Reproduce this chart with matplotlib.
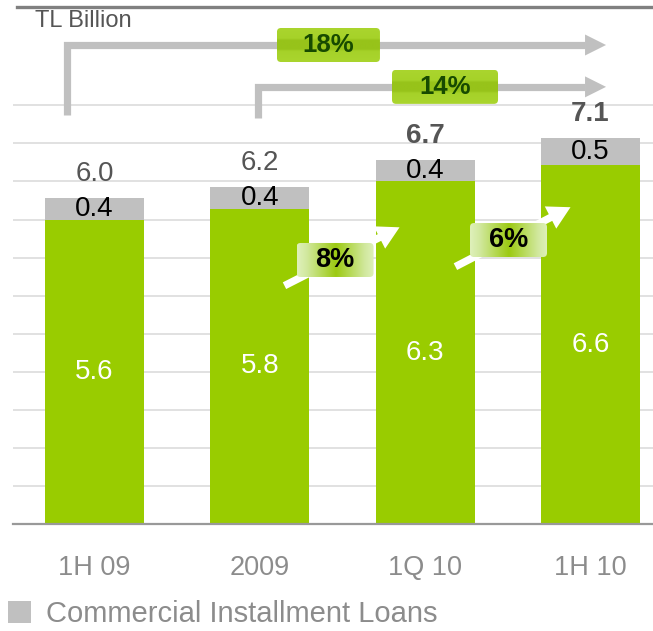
import numpy as np
import matplotlib
matplotlib.use("Agg")
import matplotlib.pyplot as plt
from matplotlib.patches import FancyBboxPatch, FancyArrowPatch
from matplotlib.colors import to_rgb

plt.rcParams['font.family'] = ['Liberation Sans', 'DejaVu Sans']

# Commercial installment loans, TL billion
periods = ["1H 09", "2009", "1Q 10", "1H 10"]
green_part = [5.6, 5.8, 6.3, 6.6]
gray_part = [0.4, 0.4, 0.4, 0.5]
totals = [6.0, 6.2, 6.7, 7.1]
total_bold = [False, False, True, True]

# cumulative growth brackets and quarter-on-quarter growth
bracket_labels = ["18%", "14%"]
step_labels = ["8%", "6%"]

GREEN = "#99cc00"
GRAY = "#c0c0c0"
TEXT_GRAY = "#8c8c8c"

fig = plt.figure(figsize=(6.53, 6.31), dpi=100)
ax = fig.add_axes([13 / 653, 107 / 631, 640 / 653, 524 / 631])

x = np.arange(len(periods))
ax.bar(x, green_part, width=0.6, color=GREEN, zorder=2)
gray_bars = ax.bar(x, gray_part, bottom=green_part, width=0.6, color=GRAY,
                   zorder=2, label="Commercial Installment Loans")

for i in range(len(periods)):
    ax.text(x[i], green_part[i] / 2, f"{green_part[i]:.1f}", ha="center",
            va="center", color="white", fontsize=20, zorder=3)
    ax.text(x[i], green_part[i] + gray_part[i] / 2, f"{gray_part[i]:.1f}",
            ha="center", va="center", color="black", fontsize=20, zorder=3)
    ax.annotate(f"{totals[i]:.1f}", (x[i], totals[i]), xytext=(0, 17),
                textcoords="offset points", ha="center", va="center",
                fontsize=20, color="#555555",
                fontweight="bold" if total_bold[i] else "normal", zorder=3)

# pixel -> data scale helpers
px_x = 1 / 165.33
px_y = 1 / 54.37
asp = px_y / px_x


def gradient_box(cx, cy, w, h, stops, horizontal, label, color, size):
    box = FancyBboxPatch((cx - w / 2, cy - h / 2), w, h,
                         boxstyle=f"round,pad=0,rounding_size={4 * px_x}",
                         mutation_aspect=asp, facecolor="none",
                         edgecolor="none", zorder=5)
    ax.add_patch(box)
    t = np.linspace(0, 1, 200)
    pos = [s[0] for s in stops]
    rgb = np.array([to_rgb(s[1]) for s in stops])
    line = np.stack([np.interp(t, pos, rgb[:, k]) for k in range(3)], axis=-1)
    img = line[np.newaxis, :, :] if horizontal else line[:, np.newaxis, :]
    im = ax.imshow(img, extent=(cx - w / 2, cx + w / 2, cy - h / 2, cy + h / 2),
                   aspect="auto", interpolation="bilinear", zorder=5)
    im.set_clip_path(box)
    ax.text(cx, cy, label, ha="center", va="center", fontsize=size,
            fontweight="bold", color=color, zorder=6)


# gray brackets spanning several periods
bracket_stem_x = [-0.166, 0.989]
bracket_y = [8.81, 8.04]
bracket_stem_bottom = [7.52, 7.47]
bracket_box_x = [1.415, 2.12]
bracket_box_w = [103 * px_x, 106 * px_x]
head_base, head_tip = 2.967, 3.094
band = [(0, "#aad52e"), (0.3, "#a6d229"), (0.36, "#97c31a"),
        (0.62, "#97c31a"), (0.68, "#a6d229"), (1, "#aad52e")]
for i, lab in enumerate(bracket_labels):
    ax.plot([bracket_stem_x[i], bracket_stem_x[i], head_base],
            [bracket_stem_bottom[i], bracket_y[i], bracket_y[i]],
            color=GRAY, lw=5.2, solid_joinstyle="miter",
            solid_capstyle="butt", zorder=4)
    ax.fill([head_base, head_tip, head_base],
            [bracket_y[i] - 10.5 * px_y, bracket_y[i], bracket_y[i] + 10.5 * px_y],
            color=GRAY, lw=0, zorder=4)
    gradient_box(bracket_box_x[i], bracket_y[i], bracket_box_w[i], 34 * px_y,
                 band, False, lab, "#174a00", 18.5)

# white step arrows between quarters
step_from = [(1.134, 4.36), (2.168, 4.71)]
step_to = [(1.86, 5.48), (2.894, 5.85)]
step_box = [(1.455, 4.856), (2.504, 5.223)]
fade = [(0, "#dff0bb"), (0.12, "#d2e9a0"), (0.5, "#9cca12"),
        (0.88, "#d2e9a0"), (1, "#dff0bb")]
for i, lab in enumerate(step_labels):
    arr = FancyArrowPatch(step_from[i], step_to[i],
                          arrowstyle="simple,tail_width=0.45,head_width=1.5,head_length=1.35",
                          mutation_scale=12, color="white", lw=0, zorder=4)
    ax.add_patch(arr)
    gradient_box(step_box[i][0], step_box[i][1], 77 * px_x, 34 * px_y,
                 fade, True, lab, "black", 19.5)

ax.set_xlim(-0.493, 3.378)
ax.set_ylim(0, 524 * px_y)
ax.set_yticks(np.arange(1, 12) * 0.7)
ax.yaxis.grid(True, color="#d9d9d9", lw=1.1, zorder=0)
ax.set_axisbelow(True)
ax.tick_params(axis="y", left=False, labelleft=False)
ax.set_xticks(x)
ax.set_xticklabels(periods, fontsize=19.5, color=TEXT_GRAY)
ax.tick_params(axis="x", length=0, pad=22)
for side in ["top", "left", "right"]:
    ax.spines[side].set_visible(False)
ax.spines["bottom"].set_color("#999999")
ax.spines["bottom"].set_linewidth(1.6)

fig.text(35 / 653, 1 - 21 / 631, "TL Billion", ha="left", va="center",
         fontsize=17, color="#555555")

# header rule
fig.add_artist(plt.Line2D([17 / 653, 1], [1 - 7 / 631, 1 - 7 / 631],
                          color="#808080", lw=2.4))

fig.legend(handles=[gray_bars], labels=["Commercial Installment Loans"],
           loc="center left", bbox_to_anchor=(8 / 653, 17 / 631),
           frameon=False, fontsize=21, labelcolor=TEXT_GRAY,
           handlelength=0.8, handleheight=0.8, handletextpad=0.5,
           borderpad=0, borderaxespad=0)

fig.savefig("out.png", dpi=100)
